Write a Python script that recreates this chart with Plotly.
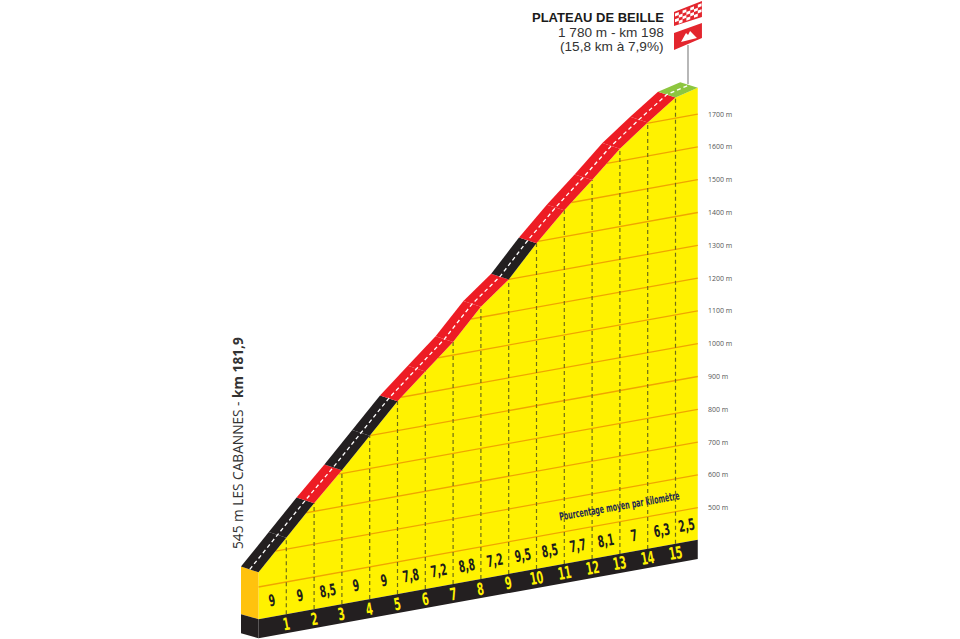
import numpy as np
import plotly.graph_objects as go

# profile
km = [0, 1, 2, 3, 4, 5, 6, 7, 8, 9, 10, 11, 12, 13, 14, 15, 15.8]
altitude = [545, 635, 725, 810, 900, 990, 1065, 1140, 1232, 1300, 1395, 1480, 1557, 1637, 1702, 1763, 1780]
road_colors = ["#231f20", "#231f20", "#ed1c24", "#231f20", "#231f20", "#ed1c24", "#ed1c24", "#ed1c24", "#ed1c24",
               "#231f20", "#ed1c24", "#ed1c24", "#ed1c24", "#ed1c24", "#ed1c24", "#8dc63f"]
gradients = ["9", "9", "8,5", "9", "9", "7,8", "7,2", "8,8", "7,2", "9,5", "8,5", "7,7", "8,1", "7", "6,3", "2,5"]
grid_alts = [500, 600, 700, 800, 900, 1000, 1100, 1200, 1300, 1400, 1500, 1600, 1700]
km_marks = [1, 2, 3, 4, 5, 6, 7, 8, 9, 10, 11, 12, 13, 14, 15]

W, H = 960, 639
PX_KM = 27.8      # px per km
KM0_X = 258.5     # px of km 0
PX_M = 0.328      # px per metre
SHEAR = 15.3      # metres the base climbs per km (oblique view)
Y500 = 587        # px of 500 m at km 0
BASE = 402        # altitude of the top of the black band
BOTTOM = 344      # bottom of the black band
ROAD_DX = -17.5 / PX_KM
ROAD_DY = 5.7 / PX_M

NARROW = "DejaVu Sans Condensed, Roboto, sans-serif"
SANS = "Open Sans, Noto Sans, sans-serif"
TITLE = "Liberation Sans, Arial, sans-serif"


def sheared(k, a):
    return np.asarray(a, dtype=float) + SHEAR * np.asarray(k, dtype=float)


def profile(k):
    return np.interp(k, km, altitude)


fig = go.Figure()


def poly(xs, ys, color):
    fig.add_trace(go.Scatter(x=xs, y=ys, mode="lines", fill="toself", fillcolor=color,
                             line=dict(width=0), hoverinfo="skip", showlegend=False))


def line(xs, ys, color, width=1, dash="solid"):
    fig.add_trace(go.Scatter(x=xs, y=ys, mode="lines", line=dict(color=color, width=width, dash=dash),
                             hoverinfo="skip", showlegend=False))


# yellow front face
km_a = np.array(km)
alt_a = np.array(altitude)
poly(list(km_a) + [km_a[-1], 0], list(sheared(km_a, alt_a)) + [sheared(km_a[-1], BASE), sheared(0, BASE)], "#fff200")

# altitude lines, only under the profile
for a in grid_alts:
    start = float(np.interp(a, altitude, km))
    line([start, km[-1]], [sheared(start, a), sheared(km[-1], a)], "#f0a500", 1.3)

# km lines
for k in km_marks:
    line([k, k], [sheared(k, BASE), sheared(k, profile(k))], "#6f6f14", 1.2, "4px,3px")

# black band and left faces
poly([0, km[-1], km[-1], 0], [sheared(0, BASE), sheared(km[-1], BASE), sheared(km[-1], BOTTOM), sheared(0, BOTTOM)], "#231f20")
poly([ROAD_DX, 0, 0, ROAD_DX], [sheared(0, altitude[0]) + ROAD_DY, sheared(0, altitude[0]), sheared(0, BASE), sheared(0, BASE) + 15], "#ffc20e")
poly([ROAD_DX, 0, 0, ROAD_DX], [sheared(0, BASE) + 15, sheared(0, BASE), sheared(0, BOTTOM), sheared(0, BOTTOM) + 15], "#231f20")

# road ribbon
for i, color in enumerate(road_colors):
    ka, kb = km[i], km[i + 1]
    ya, yb = sheared(ka, altitude[i]), sheared(kb, altitude[i + 1])
    poly([ka, kb, kb + ROAD_DX, ka + ROAD_DX], [ya, yb, yb + ROAD_DY, ya + ROAD_DY], color)
line(list(km_a + ROAD_DX / 2), list(sheared(km_a, alt_a) + ROAD_DY / 2), "#ffffff", 1.3, "4px,3px")

annotations = []


def label(x, y, text, size, color, font=SANS, angle=0, xanchor="center", xref="x", yref="y"):
    annotations.append(dict(x=x, y=y, xref=xref, yref=yref, text=text, showarrow=False, textangle=angle,
                            xanchor=xanchor, yanchor="middle",
                            font=dict(size=size, color=color, family=font)))


# gradient per km
for i, g in enumerate(gradients):
    mid = (km[i] + km[i + 1]) / 2
    label(mid, sheared(mid, 451), "<b>%s</b>" % g, 16, "#1c1c1c", NARROW, -10)

# km numbers on the band
for k in km_marks:
    label(k, sheared(k, (BASE + BOTTOM) / 2), "<b>%d</b>" % k, 17, "#fff200", NARROW, -10)

# altitude labels
for a in grid_alts:
    label(km[-1] + 0.3, sheared(km[-1], a), "%d m" % a, 7, "#555555", SANS, 0, "left")

label(12.97, sheared(12.97, 548), "<b>Pourcentage moyen par kilomètre</b>", 11, "#1f2a52", NARROW, -10)

fig.update_layout(
    width=W, height=H, margin=dict(l=0, r=0, t=0, b=0),
    paper_bgcolor="white", plot_bgcolor="white", showlegend=False,
    xaxis=dict(range=[-KM0_X / PX_KM, (W - KM0_X) / PX_KM], visible=False, fixedrange=True),
    yaxis=dict(range=[500 + (Y500 - H) / PX_M, 500 + Y500 / PX_M], visible=False, fixedrange=True),
)


# title block, flag and sign are placed in page pixels
def px(x, y):
    return x / W, 1 - y / H


def path(points, color):
    d = "M " + " L ".join("%.4f,%.4f" % px(x, y) for x, y in points) + " Z"
    fig.add_shape(type="path", path=d, xref="paper", yref="paper", fillcolor=color, line=dict(width=0))


def page_label(x, y, text, size, color, font=SANS, angle=0, xanchor="right"):
    px_x, px_y = px(x, y)
    label(px_x, px_y, text, size, color, font, angle, xanchor, "paper", "paper")


page_label(666, 17, "<b>PLATEAU DE BEILLE</b>", 13, "#1a1a1a", TITLE)
page_label(666, 32, "1 780 m - km 198", 13.6, "#333333", TITLE)
page_label(666, 47, "(15,8 km à 7,9%)", 13.6, "#333333", TITLE)
page_label(237, 443, "545 m LES CABANNES - <b>km 181,9</b>", 13.7, "#333333", SANS, -90, "center")
fig.update_layout(annotations=annotations)

fig.add_shape(type="line", x0=px(688, 0)[0], x1=px(688, 0)[0], y0=px(0, 45)[1], y1=px(0, 84)[1], xref="paper", yref="paper",
              line=dict(color="#888888", width=1.2))
path([(674, 33), (702, 23), (702, 38), (674, 50)], "#e3262e")
path([(681, 42), (686, 33), (688, 35), (690, 31), (697, 38)], "#ffffff")
path([(674, 12), (702, 1), (702, 17), (674, 26)], "#e3262e")
for c in range(7):
    for r in range(4):
        if (c + r) % 2 == 0:
            x0 = 675 + c * 3.8
            y0 = 13.5 - c * 1.45 + r * 2.9
            path([(x0, y0), (x0 + 3.8, y0 - 1.45), (x0 + 3.8, y0 + 1.45), (x0, y0 + 2.9)], "#ffffff")

# no real condensed face is installed, so squeeze the narrow labels
squeeze = """
document.body.style.margin = '0';
document.querySelectorAll('.annotation-text').forEach(function (t) {
    if (t.style.fontFamily.indexOf('Condensed') >= 0) {
        t.setAttribute('textLength', t.getComputedTextLength() * 0.64);
        t.setAttribute('lengthAdjust', 'spacingAndGlyphs');
    }
});
"""
fig.write_html("out.html", config=dict(displayModeBar=False), post_script=squeeze)
